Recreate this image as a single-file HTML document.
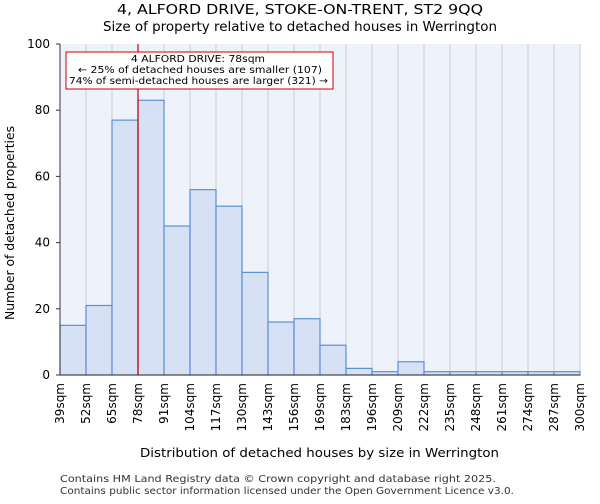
<!DOCTYPE html>
<html><head><meta charset="utf-8"><style>
body{margin:0;background:#fff;font-family:"DejaVu Sans","Liberation Sans",sans-serif;}
</style></head><body>
<svg width="600" height="500" xmlns="http://www.w3.org/2000/svg" font-family="DejaVu Sans, Liberation Sans, sans-serif">
<text x="117" y="14" font-size="13" textLength="366" lengthAdjust="spacingAndGlyphs">4, ALFORD DRIVE, STOKE-ON-TRENT, ST2 9QQ</text>
<text x="103" y="31" font-size="13" textLength="394" lengthAdjust="spacingAndGlyphs">Size of property relative to detached houses in Werrington</text>
<rect x="60" y="44" width="520" height="331" fill="#eef2fb"/>
<g id="grid"></g>
<g id="bars"></g>
<g id="yticks"></g>
<g id="xticks"></g>
<line x1="60" y1="44" x2="60" y2="375" stroke="#333"/>
<line x1="60" y1="375" x2="580" y2="375" stroke="#333"/>
<line id="marker" y1="44" y2="375" stroke="#cc0000" stroke-width="1.2"/>
<rect x="66" y="52" width="267" height="37" fill="#fff" stroke="#cc0000" stroke-width="1"/>
<text x="131" y="62" font-size="10" textLength="134" lengthAdjust="spacingAndGlyphs">4 ALFORD DRIVE: 78sqm</text>
<text x="78" y="73" font-size="10" textLength="244" lengthAdjust="spacingAndGlyphs">← 25% of detached houses are smaller (107)</text>
<text x="69" y="84" font-size="10" textLength="259" lengthAdjust="spacingAndGlyphs">74% of semi-detached houses are larger (321) →</text>
<text x="0" y="0" font-size="12" textLength="194" lengthAdjust="spacingAndGlyphs" transform="translate(14 320) rotate(-90)">Number of detached properties</text>
<text x="140" y="457" font-size="12" textLength="359" lengthAdjust="spacingAndGlyphs">Distribution of detached houses by size in Werrington</text>
<text x="60" y="482" font-size="10" fill="#333" textLength="436" lengthAdjust="spacingAndGlyphs">Contains HM Land Registry data © Crown copyright and database right 2025.</text>
<text x="60" y="494" font-size="10" fill="#333" textLength="454" lengthAdjust="spacingAndGlyphs">Contains public sector information licensed under the Open Government Licence v3.0.</text>
</svg>
<script>
const categories=["39sqm","52sqm","65sqm","78sqm","91sqm","104sqm","117sqm","130sqm","143sqm","156sqm","169sqm","183sqm","196sqm","209sqm","222sqm","235sqm","248sqm","261sqm","274sqm","287sqm","300sqm"];
const counts=[15,21,77,83,45,56,51,31,16,17,9,2,1,4,1,1,1,1,1,1];
const yTicks=[0,20,40,60,80,100];
const markerIndex=3;
const NS="http://www.w3.org/2000/svg";
const x0=60,x1=580,y0=375,y1=44,yMax=100;
const bw=(x1-x0)/counts.length;
const xs=i=>x0+i*bw;
const ys=v=>y0-(v/yMax)*(y0-y1);
function mk(t,a,p){const e=document.createElementNS(NS,t);for(const k in a)e.setAttribute(k,a[k]);document.getElementById(p).appendChild(e);return e;}
for(let i=0;i<=counts.length;i++){
 const g=mk("line",{x1:xs(i),x2:xs(i),y1:y1,y2:y0,stroke:"#cccccc","stroke-width":1},"grid");
 
 
 const t=mk("text",{x:0,y:0,"font-size":12,"text-anchor":"end",transform:`translate(${xs(i)+4},${y0+8}) rotate(-90)`},"xticks");
 t.textContent=categories[i];
 
 
}
counts.forEach((v,i)=>{
 const r=mk("rect",{x:xs(i),y:ys(v),width:bw,height:y0-ys(v),fill:"#d6e1f5",stroke:"#5b8fd9","stroke-width":1.2},"bars");
 
 
});
yTicks.forEach(v=>{
 const l=mk("line",{x1:x0-4,x2:x0,y1:ys(v),y2:ys(v),stroke:"#333"},"yticks");
 
 
 const t=mk("text",{x:x0-10,y:ys(v)+4,"font-size":12,"text-anchor":"end"},"yticks");
 t.textContent=v;
 
 
});
const m=document.getElementById("marker");m.setAttribute("x1",xs(markerIndex));m.setAttribute("x2",xs(markerIndex));
</script>
</body></html>
